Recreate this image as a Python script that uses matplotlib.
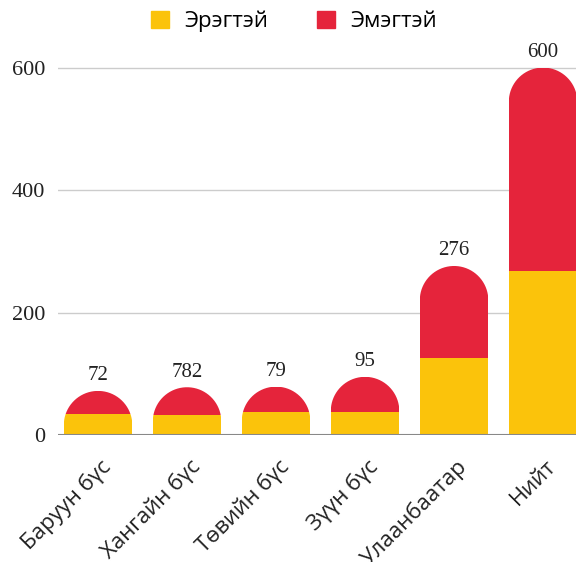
import numpy as np
import matplotlib
matplotlib.use("Agg")
import matplotlib.pyplot as plt
from matplotlib.path import Path
from matplotlib.patches import PathPatch, Patch
from matplotlib.transforms import ScaledTranslation

regions = ["Баруун бүс", "Хангайн бүс", "Төвийн бүс", "Зүүн бүс", "Улаанбаатар", "Нийт"]
male = [35, 32, 37, 37, 126, 267]      # Эрэгтэй
female = [37, 46, 42, 58, 150, 333]    # Эмэгтэй
total_labels = ["72", "782", "79", "95", "276", "600"]
yticks = [0, 200, 400, 600]

yellow = "#FBC30B"
red = "#E5243B"
sans = ["Open Sans", "DejaVu Sans"]
serif = ["Liberation Serif", "DejaVu Serif"]

fig = plt.figure(figsize=(5.76, 5.62), dpi=100)
ax = fig.add_axes([58 / 576, 127 / 562, 1 - 58 / 576, (435 - 40) / 562])

x = np.arange(len(regions))
width = 0.77
ax.set_xlim(-0.45, 5.37)
ax.set_ylim(0, 645)

bars_m = ax.bar(x, male, width, color=yellow, zorder=3)
bars_f = ax.bar(x, female, width, bottom=male, color=red, zorder=3)

# rounded tops: clip both segments to one shape per bar
fig.canvas.draw()
p0 = ax.transData.transform((0, 0))
px_x = ax.transData.transform((1, 0))[0] - p0[0]
px_y = ax.transData.transform((0, 1))[1] - p0[1]
rx = width / 2
ry = rx * px_x / px_y
t = np.linspace(np.pi, 0, 40)
for i in range(len(regions)):
    top = male[i] + female[i]
    xs = [x[i] - rx] + list(x[i] + rx * np.cos(t)) + [x[i] + rx, x[i] - rx]
    ys = [0] + list(top - ry + ry * np.sin(t)) + [0, 0]
    shape = PathPatch(Path(np.column_stack([xs, ys])), transform=ax.transData)
    bars_m[i].set_clip_path(shape)
    bars_f[i].set_clip_path(shape)

ax.bar_label(bars_f, labels=total_labels, padding=4, fontsize=15,
             family=serif, color="#222222")

ax.set_yticks(yticks)
ax.set_yticklabels([str(v) for v in yticks], family=serif, fontsize=16, color="#222222")
ax.yaxis.grid(True, color="#cccccc", linewidth=1, zorder=0)
ax.axhline(0, color="#888888", linewidth=1.5, zorder=4)
for s in ax.spines.values():
    s.set_visible(False)
ax.tick_params(axis="both", length=0)
ax.tick_params(axis="y", pad=9)

ax.set_xticks(x)
ax.set_xticklabels(regions, rotation=45, ha="right", va="center",
                   rotation_mode="anchor", family=sans, fontsize=16, color="#222222")
offset = ScaledTranslation(7 / 72, -17 / 72, fig.dpi_scale_trans)
for lbl in ax.get_xticklabels():
    lbl.set_transform(lbl.get_transform() + offset)

handles = [Patch(color=yellow, label="Эрэгтэй"), Patch(color=red, label="Эмэгтэй")]
fig.legend(handles=handles, loc="center", bbox_to_anchor=(0.51, 1 - 21 / 562), ncol=2,
           frameon=False, prop={"family": sans, "size": 16},
           handlelength=0.8, handleheight=0.8, handletextpad=0.7, columnspacing=2.2)

fig.savefig("out.png", dpi=100)
